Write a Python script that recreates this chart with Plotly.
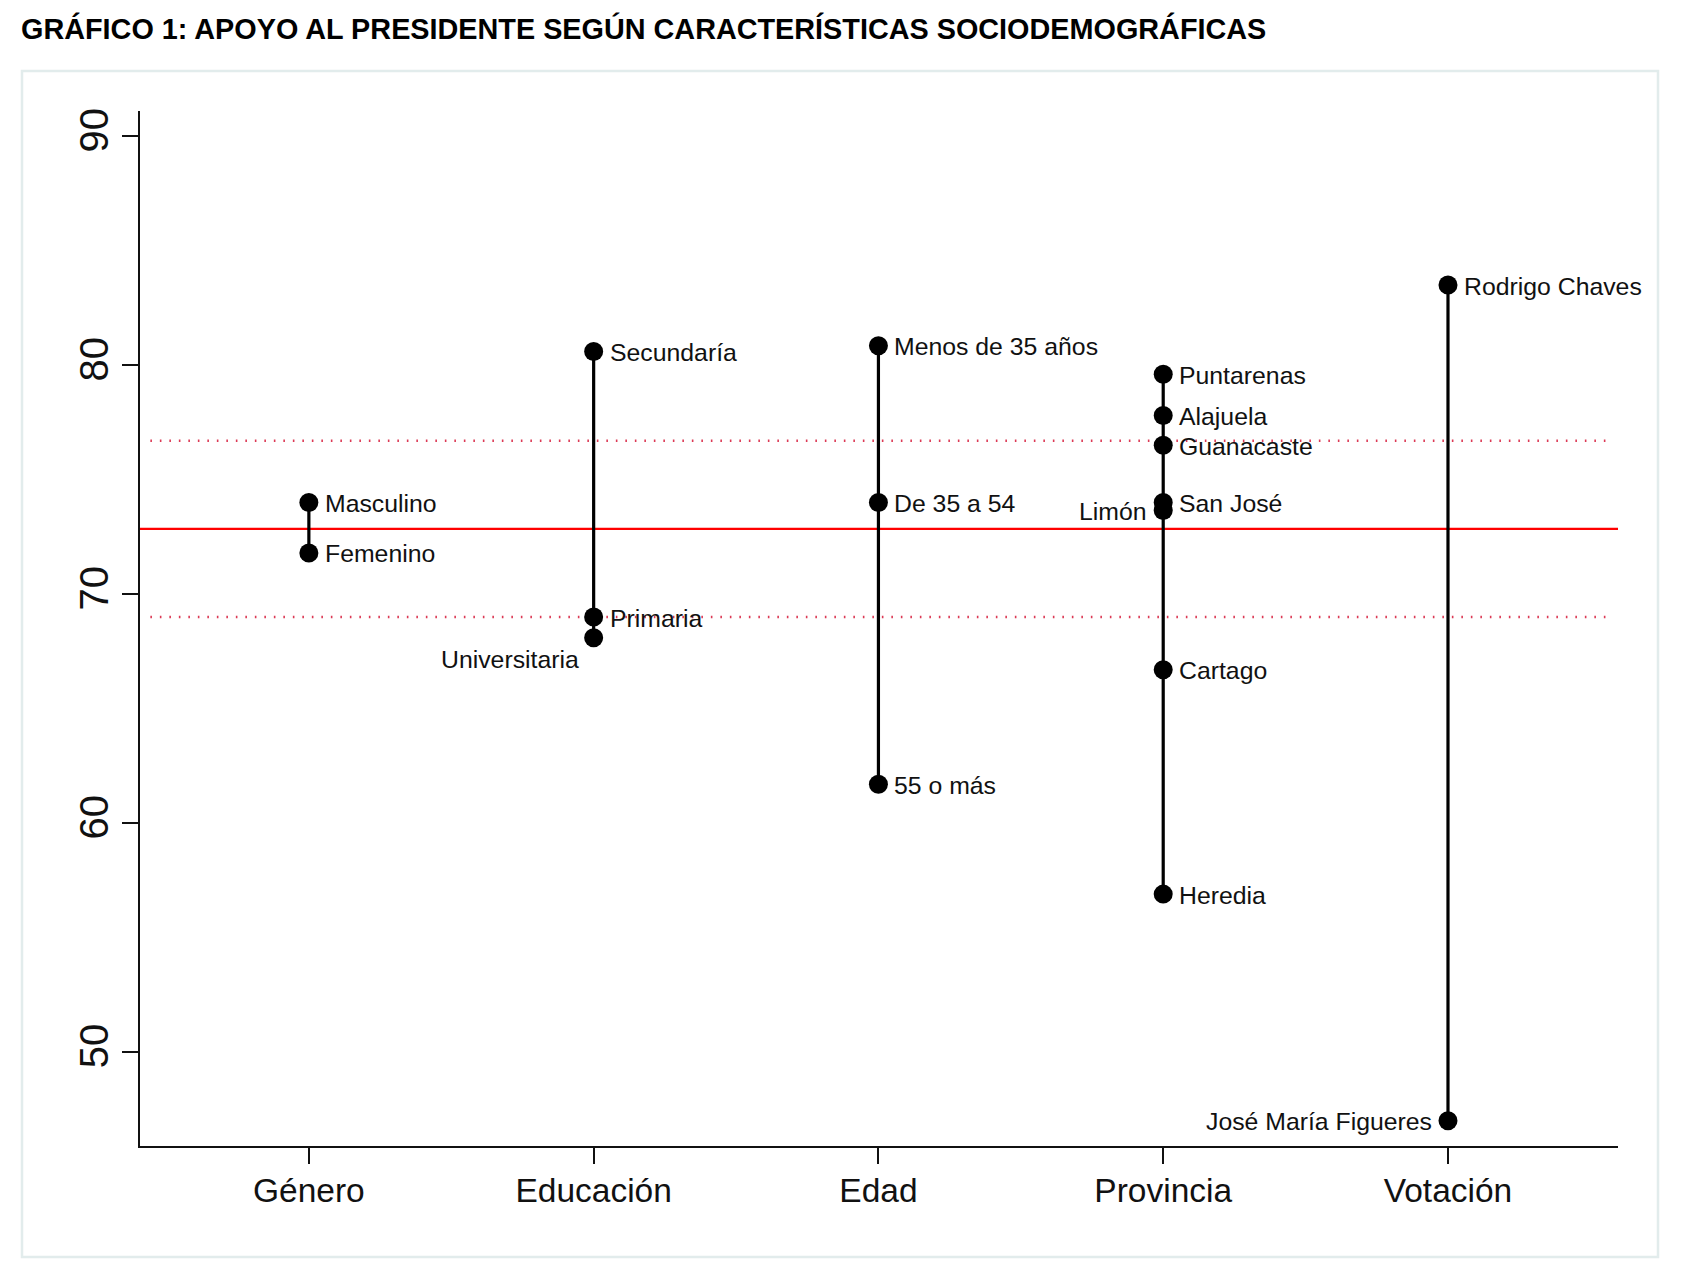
import plotly.graph_objects as go

# ---------------- data ----------------
categories = ["Género", "Educación", "Edad", "Provincia", "Votación"]

point_groups = ["Género", "Género",
                "Educación", "Educación", "Educación",
                "Edad", "Edad", "Edad",
                "Provincia", "Provincia", "Provincia", "Provincia",
                "Provincia", "Provincia", "Provincia",
                "Votación", "Votación"]
point_labels = ["Masculino", "Femenino",
                "Secundaría", "Primaria", "Universitaria",
                "Menos de 35 años", "De 35 a 54", "55 o más",
                "Puntarenas", "Alajuela", "Guanacaste", "San José",
                "Limón", "Cartago", "Heredia",
                "Rodrigo Chaves", "José María Figueres"]
point_values = [74.0, 71.8,
                80.6, 69.0, 68.1,
                80.85, 74.0, 61.7,
                79.6, 77.8, 76.5, 74.0,
                73.65, 66.7, 56.9,
                83.5, 47.0]

mean_support = 72.85
ci_bounds = [69.0, 76.7]

y_ticks = [50, 60, 70, 80, 90]

# label placement (style, not data)
placement = {"Universitaria": "below-left", "Limón": "left", "José María Figueres": "left"}

FONT = "Liberation Sans, Arial, Helvetica, sans-serif"
W, H = 1668, 1264          # page body has an 8px margin
ML, MR, MT, MB = 132, 58, 103, 126
plot_w = W - ML - MR
plot_h = H - MT - MB

fig = go.Figure()

# vertical range lines per group
for cat in categories:
    vals = [v for g, v in zip(point_groups, point_values) if g == cat]
    fig.add_trace(go.Scatter(
        x=[cat, cat], y=[min(vals), max(vals)], mode="lines",
        line=dict(color="#000000", width=3.2), hoverinfo="skip", showlegend=False))

# points
fig.add_trace(go.Scatter(
    x=point_groups, y=point_values, mode="markers",
    marker=dict(color="#000000", size=19, line=dict(width=0)),
    text=point_labels, hovertemplate="%{text}: %{y}<extra></extra>", showlegend=False))

# labels
for g, lab, v in zip(point_groups, point_labels, point_values):
    side = placement.get(lab, "right")
    if side == "right":
        kw = dict(xanchor="left", xshift=14, yshift=-1)
    elif side == "left":
        kw = dict(xanchor="right", xshift=-14, yshift=-1)
    else:
        kw = dict(xanchor="right", xshift=-13, yshift=-22)
    fig.add_annotation(x=g, y=v, text=lab, showarrow=False, yanchor="middle",
                       font=dict(family=FONT, size=24.8, color="#111111"), **kw)

# mean line and bounds
fig.add_shape(type="line", xref="paper", x0=0, x1=1, yref="y",
              y0=mean_support, y1=mean_support,
              line=dict(color="#ff0000", width=2.2), layer="below")
for b in ci_bounds:
    fig.add_shape(type="line", xref="paper", x0=0.007, x1=0.996, yref="y",
                  y0=b, y1=b,
                  line=dict(color="#dc3a55", width=2.6, dash="1.6px,7.9px"), layer="below")

# outer frame
fig.add_shape(type="rect", xref="paper", yref="paper",
              x0=(14 - ML) / plot_w, x1=(1650 - ML) / plot_w,
              y0=(H - MB - 1249) / plot_h, y1=(H - MB - 63) / plot_h,
              line=dict(color="#e2ecec", width=2.5), fillcolor="rgba(0,0,0,0)", layer="below")

fig.update_layout(
    width=W, height=H,
    margin=dict(l=ML, r=MR, t=MT, b=MB),
    paper_bgcolor="#ffffff", plot_bgcolor="#ffffff",
    title=dict(text="<b>GRÁFICO 1: APOYO AL PRESIDENTE SEGÚN CARACTERÍSTICAS SOCIODEMOGRÁFICAS</b>",
               x=13 / W, xref="container", xanchor="left",
               y=1 - 21 / H, yref="container", yanchor="middle",
               font=dict(family=FONT, size=28.8, color="#000000")),
    showlegend=False,
)

fig.update_xaxes(
    type="category", categoryorder="array", categoryarray=categories,
    range=[-0.593, 4.597],
    showgrid=False, zeroline=False,
    showline=True, linecolor="#111111", linewidth=2,
    ticks="outside", ticklen=16, tickwidth=2, tickcolor="#111111",
    ticklabelstandoff=-2,
    tickfont=dict(family=FONT, size=33.5, color="#111111"),
)
fig.update_yaxes(
    range=[45.9, 91.1], tickvals=y_ticks, ticktext=[str(t) for t in y_ticks],
    showgrid=False, zeroline=False,
    showline=True, linecolor="#111111", linewidth=2,
    ticks="outside", ticklen=16, tickwidth=2, tickcolor="#111111",
    tickangle=-90, ticklabelstandoff=-2,
    tickfont=dict(family=FONT, size=40, color="#111111"),
)

fig.write_html("out.html")
